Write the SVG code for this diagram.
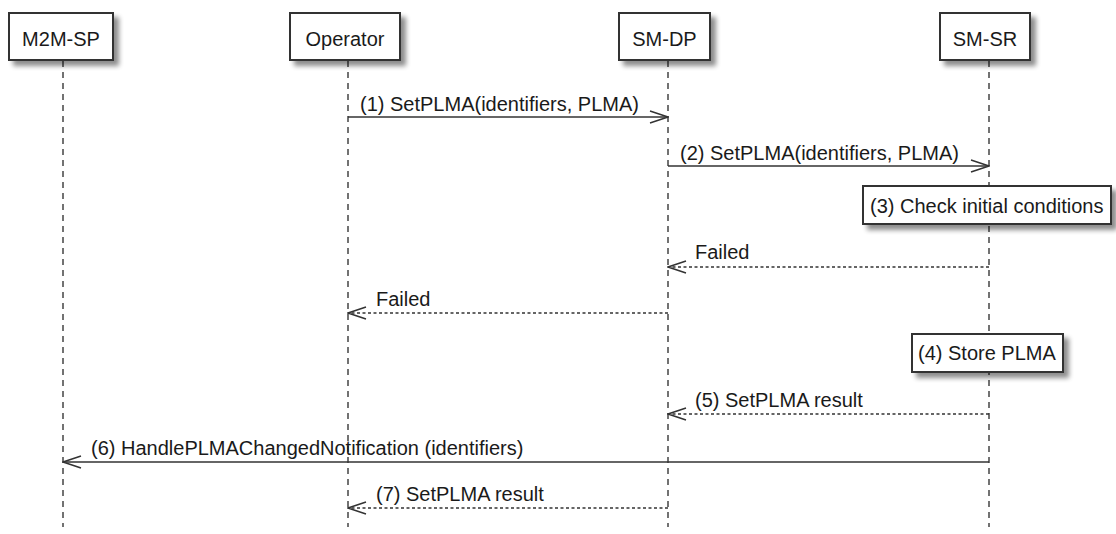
<svg xmlns="http://www.w3.org/2000/svg" width="1116" height="534" viewBox="0 0 1116 534">
<defs>
<filter id="sh" x="-20%" y="-20%" width="150%" height="160%">
<feGaussianBlur in="SourceAlpha" stdDeviation="2.5"/>
<feOffset dx="5" dy="5" result="b"/>
<feComponentTransfer><feFuncA type="linear" slope="0.45"/></feComponentTransfer>
<feMerge><feMergeNode/><feMergeNode in="SourceGraphic"/></feMerge>
</filter>
<marker id="ah" viewBox="0 0 20 14" refX="19" refY="7" markerWidth="20" markerHeight="14" markerUnits="userSpaceOnUse" orient="auto">
<path d="M1,1 L19,7 L1,13" fill="none" stroke="#333" stroke-width="1.5"/>
</marker>
</defs>
<style>
text{font-family:"Liberation Sans",Arial,sans-serif;font-size:20px;fill:#1a1a1a}
.box{fill:#fff;stroke:#333;stroke-width:2}
.life{stroke:#444;stroke-width:1.5;stroke-dasharray:6,5;fill:none}
.msg{stroke:#333;stroke-width:1.5;fill:none;marker-end:url(#ah)}
.ret{stroke:#333;stroke-width:1.5;fill:none;stroke-dasharray:3,2.5;marker-end:url(#ah)}
</style>
<g id="lifelines">
<line class="life" x1="63" y1="61" x2="63" y2="527"/>
<line class="life" x1="348" y1="61" x2="348" y2="527"/>
<line class="life" x1="668" y1="61" x2="668" y2="527"/>
<line class="life" x1="989" y1="61" x2="989" y2="527"/>
</g>
<g id="p-m2msp">
<rect class="box" x="9" y="13" width="104" height="47" filter="url(#sh)"/>
<text x="61" y="46" text-anchor="middle">M2M-SP</text>
</g>
<g id="p-operator">
<rect class="box" x="290" y="13" width="110" height="47" filter="url(#sh)"/>
<text x="345" y="46" text-anchor="middle">Operator</text>
</g>
<g id="p-smdp">
<rect class="box" x="619" y="13" width="91" height="47" filter="url(#sh)"/>
<text x="664.5" y="46" text-anchor="middle">SM-DP</text>
</g>
<g id="p-smsr">
<rect class="box" x="940" y="13" width="90" height="47" filter="url(#sh)"/>
<text x="985" y="46" text-anchor="middle">SM-SR</text>
</g>
<g id="connectors">
<line class="msg" x1="348" y1="117" x2="668" y2="117"/>
<text x="360" y="111">(1) SetPLMA(identifiers, PLMA)</text>
<line class="msg" x1="668" y1="166" x2="989" y2="166"/>
<text x="680" y="160">(2) SetPLMA(identifiers, PLMA)</text>
<line class="ret" x1="989" y1="267" x2="668" y2="267"/>
<text x="695" y="259">Failed</text>
<line class="ret" x1="668" y1="313" x2="348" y2="313"/>
<text x="376" y="306">Failed</text>
<line class="ret" x1="989" y1="414" x2="668" y2="414"/>
<text x="695" y="407">(5) SetPLMA result</text>
<line class="msg" x1="989" y1="462" x2="63" y2="462"/>
<text x="91" y="455">(6) HandlePLMAChangedNotification (identifiers)</text>
<line class="ret" x1="668" y1="508" x2="348" y2="508"/>
<text x="376" y="501">(7) SetPLMA result</text>
</g>
<g id="note3">
<rect class="box" x="863" y="186" width="248" height="38" stroke-width="1.5" filter="url(#sh)"/>
<text x="870" y="213">(3) Check initial conditions</text>
</g>
<g id="note4">
<rect class="box" x="912" y="334" width="151" height="38" stroke-width="1.5" filter="url(#sh)"/>
<text x="918" y="360">(4) Store PLMA</text>
</g>
</svg>
